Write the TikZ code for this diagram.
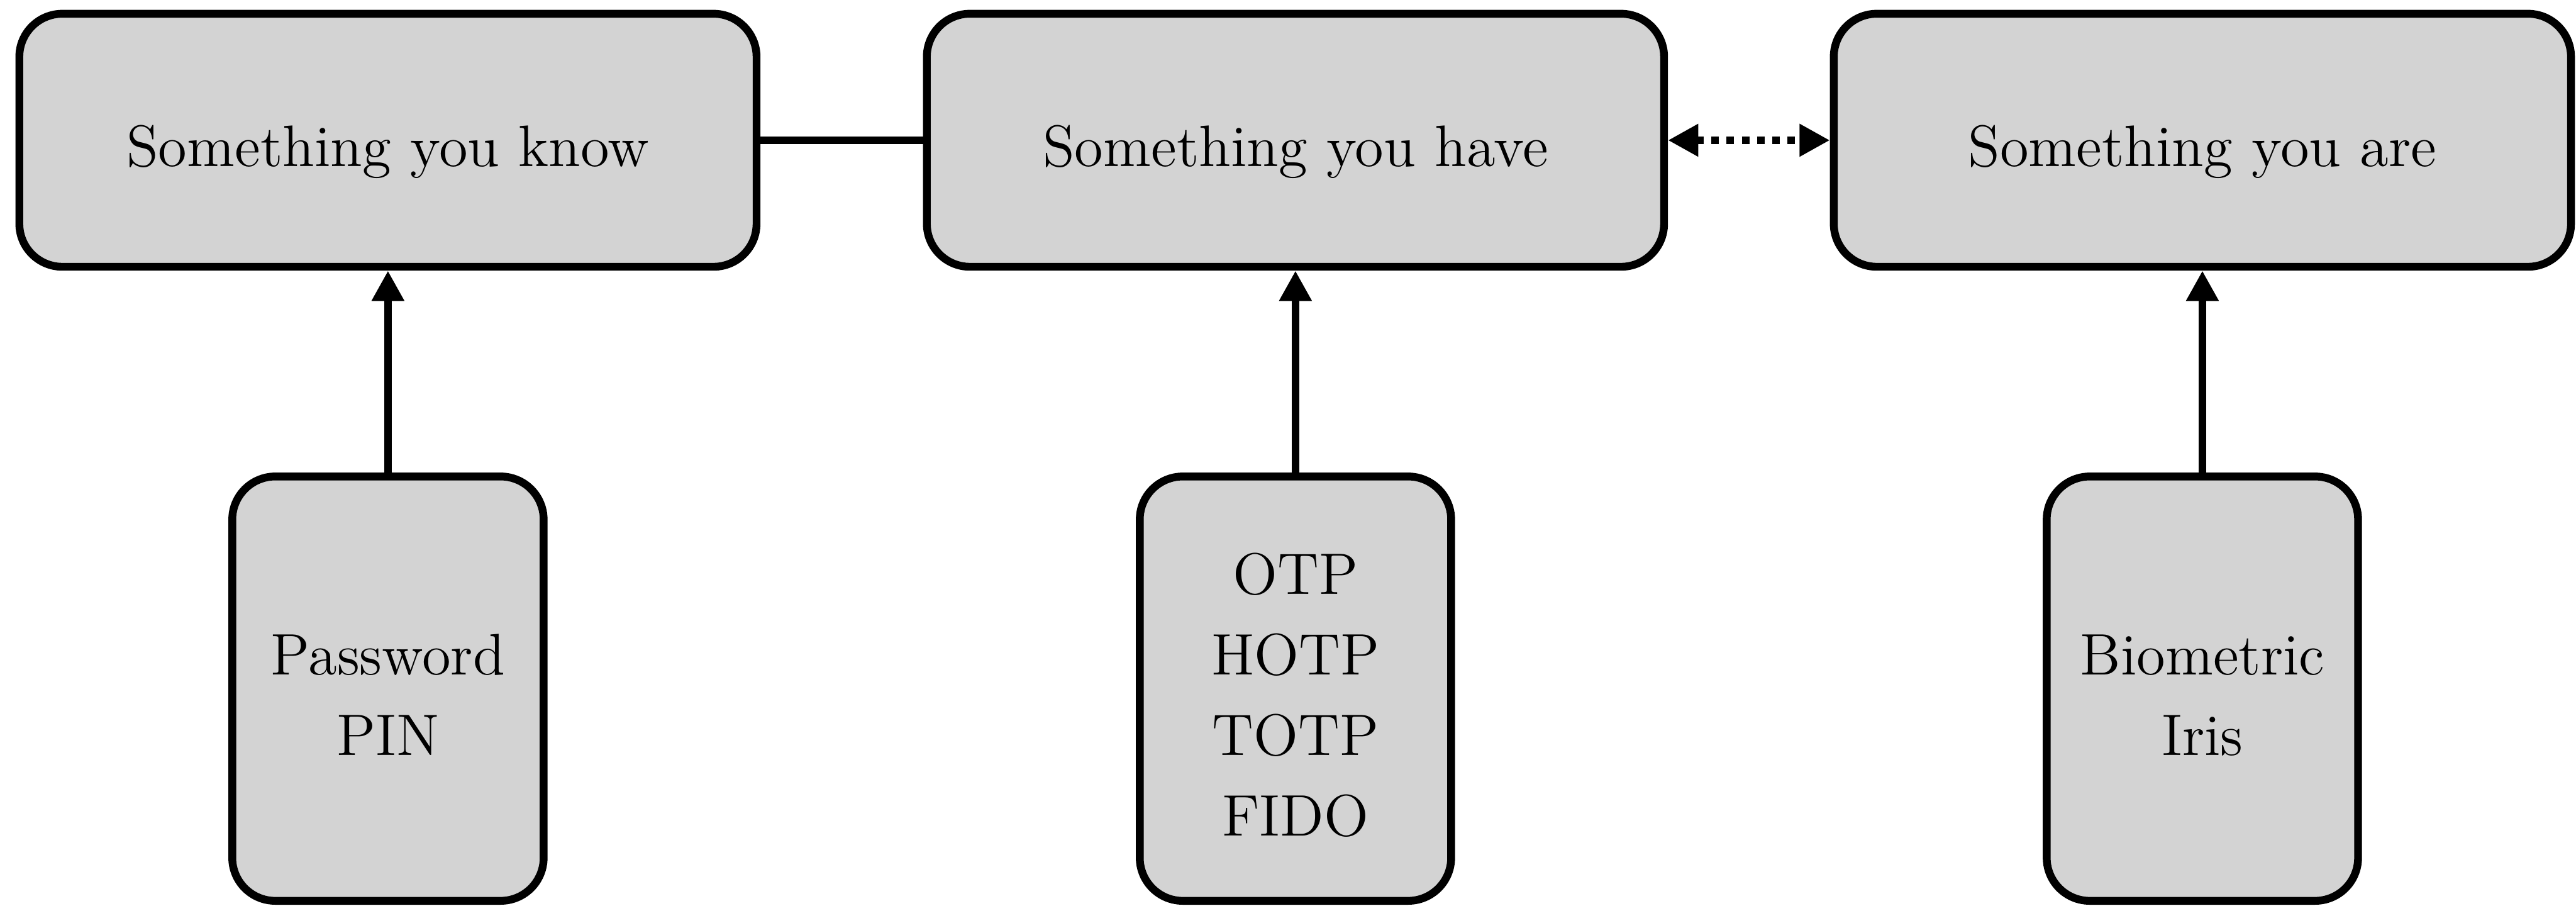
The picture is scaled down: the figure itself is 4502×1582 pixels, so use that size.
\documentclass[tikz,border=0pt]{standalone}
\usetikzlibrary{arrows.meta}
\definecolor{boxfill}{RGB}{211,211,211}
% text lowered slightly inside its box, lines stacked with a fixed spacing
\newcommand{\boxtext}[1]{\raisebox{-5.1pt}[0pt][0pt]{\begin{tabular}{@{}c@{}}#1\end{tabular}}}
\begin{document}
\begin{tikzpicture}[
  x=0.004121cm, y=-0.004121cm,
  factor/.style={draw, line width=1.6pt, fill=boxfill, rounded corners=0.31cm,
    minimum width=5.308cm, minimum height=1.821cm, inner sep=0pt,
    font=\fontsize{12}{16.5}\selectfont},
  example/.style={draw, line width=1.6pt, fill=boxfill, rounded corners=0.31cm,
    minimum width=2.242cm, minimum height=3.054cm, inner sep=0pt,
    font=\fontsize{12}{16.5}\selectfont},
  link/.style={line width=1.6pt},
  feeds/.style={line width=1.6pt, -{Triangle[length=6.2pt,width=6.3pt]}},
  mutual/.style={line width=1.6pt, {Triangle[length=6.2pt,width=6.3pt]}-{Triangle[length=6.2pt,width=6.3pt]},
    dash pattern=on 1.55pt off 1.55pt}
]
\useasboundingbox (0,0) rectangle (4502,1582);

% factor categories
\node[factor] (know) at (678,245)  {\boxtext{Something you know}};
\node[factor] (have) at (2264,245) {\boxtext{Something you have}};
\node[factor] (are)  at (3849,245) {\boxtext{Something you are}};

% examples of each factor
\node[example] (kex) at (678,1203)  {\boxtext{Password\\PIN}};
\node[example] (hex) at (2264,1203) {\boxtext{OTP\\HOTP\\TOTP\\FIDO}};
\node[example] (aex) at (3849,1203) {\boxtext{Biometric\\Iris}};

% connectors
\draw[link] (know.east) -- (have.west);
\draw[mutual] (have.east) -- (are.west);
\draw[feeds] (kex.north) -- (know.south);
\draw[feeds] (hex.north) -- (have.south);
\draw[feeds] (aex.north) -- (are.south);
\end{tikzpicture}
\end{document}
